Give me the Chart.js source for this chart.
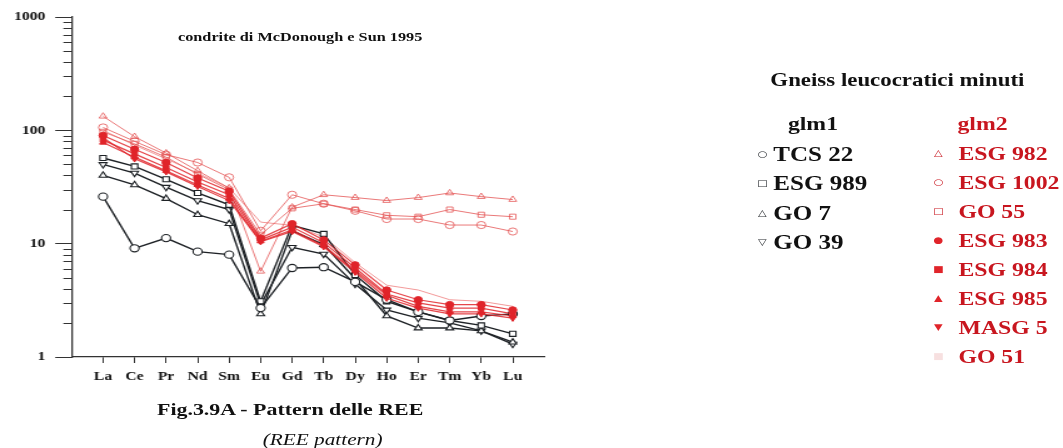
<!DOCTYPE html>
<html><head><meta charset="utf-8">
<script src="https://cdn.jsdelivr.net/npm/chart.js@4/dist/chart.umd.min.js"></script>
<style>
html,body{margin:0;padding:0;background:#fff;overflow:hidden}
#stage{position:relative;width:850px;height:448px;transform:scaleX(1.2506);transform-origin:0 0;font-family:"Liberation Serif","Times New Roman",serif;font-weight:bold;color:#111}
#stage canvas{position:absolute;left:0;top:0}
.t{position:absolute;white-space:nowrap;line-height:1}
.c{transform:translate(-50%,-50%)}
.l{transform:translateY(-50%)}
.mk{position:absolute;font-family:"DejaVu Sans",sans-serif;font-weight:normal;line-height:1;transform:translate(-50%,-50%)}
</style></head>
<body>
<div id="stage">
<canvas id="c" width="850" height="448"></canvas>
</div>
<script>
// ---- data ----
const categories = ['La','Ce','Pr','Nd','Sm','Eu','Gd','Tb','Dy','Ho','Er','Tm','Yb','Lu'];
const yTickValues = [1, 10, 100, 1000];

// glm1
const tcs22  = [26, 9.1, 11.2, 8.5, 8.0, 2.7, 6.1, 6.2, 4.6, 3.2, 2.5, 2.1, 2.3, 2.4];
const esg989 = [57, 48, 37, 28, 22, 3.1, 14.5, 12.2, 5.3, 3.1, 2.5, 2.1, 1.9, 1.6];
const go7    = [40, 33, 25, 18, 15, 2.4, 13, 9.8, 4.9, 2.3, 1.8, 1.8, 1.7, 1.35];
const go39   = [50, 42, 31.5, 24, 20, 2.9, 9.3, 8.1, 4.4, 2.6, 2.2, 2.0, 1.7, 1.3];

// glm2
const esg982  = [133, 88, 63, 44, 31, 5.7, 21, 27, 25.5, 24, 25.5, 28, 26, 24.5];
const esg1002 = [106, 80, 61, 52, 38.5, 13, 27, 22.5, 19.5, 16.5, 16.5, 14.6, 14.6, 12.8];
const go55    = [97, 76, 58, 41, 30, 12, 20.5, 22.5, 20, 17.8, 17.3, 20, 18, 17.3];
const esg983  = [90, 68, 52, 38, 29, 11.2, 15, 10.8, 6.5, 3.9, 3.2, 2.9, 2.9, 2.6];
const esg984  = [82, 62, 47, 35, 27, 10.8, 14, 10.2, 6.1, 3.6, 3.0, 2.7, 2.7, 2.4];
const esg985  = [78, 58, 44, 33, 25, 10.5, 13.2, 9.6, 5.8, 3.5, 2.8, 2.5, 2.5, 2.3];
const masg5   = [86, 56, 43, 32, 24, 10.4, 12.8, 9.4, 5.6, 3.3, 2.7, 2.4, 2.4, 2.2];
const go51    = [100, 74, 56, 42, 31, 15.5, 14.5, 11.5, 6.8, 4.3, 3.9, 3.2, 3.1, 2.8];

const glm1Names = ['TCS 22', 'ESG 989', 'GO 7', 'GO 39'];
const glm2Names = ['ESG 982', 'ESG 1002', 'GO 55', 'ESG 983', 'ESG 984', 'ESG 985', 'MASG 5', 'GO 51'];

// ---- styles ----
const BLACK = '#1e2226';
const RED = '#e0242a';
const REDLINE = 'rgba(224,36,42,0.85)';
const LIGHT = 'rgba(228,82,82,0.78)';
const TEXTRED = '#c8161f';

const pts = arr => arr.map((v, i) => ({x: i, y: v}));

function blackSet(label, arr, style, rot) {
  return {label, data: pts(arr), borderColor: BLACK, borderWidth: 1.4,
    pointStyle: style, pointRotation: rot || 0, pointRadius: 3.6, pointBorderWidth: 1.1,
    pointBorderColor: BLACK, pointBackgroundColor: '#fff', order: 1};
}
function lightSet(label, arr, style) {
  return {label, data: pts(arr), borderColor: LIGHT, borderWidth: 1,
    pointStyle: style, pointRadius: 3.6, pointBorderWidth: 1,
    pointBorderColor: LIGHT, pointBackgroundColor: 'rgba(255,255,255,0)', order: 2};
}
function fillSet(label, arr, style, rot) {
  return {label, data: pts(arr), borderColor: REDLINE, borderWidth: 1.2,
    pointStyle: style, pointRotation: rot || 0, pointRadius: 3.2, pointBorderWidth: 1,
    pointBorderColor: RED, pointBackgroundColor: RED, order: 0};
}

const datasets = [
  blackSet('TCS 22', tcs22, 'circle'),
  blackSet('ESG 989', esg989, 'rect'),
  blackSet('GO 7', go7, 'triangle'),
  blackSet('GO 39', go39, 'triangle', 180),
  lightSet('ESG 982', esg982, 'triangle'),
  lightSet('ESG 1002', esg1002, 'circle'),
  lightSet('GO 55', go55, 'rect'),
  fillSet('ESG 983', esg983, 'circle'),
  fillSet('ESG 984', esg984, 'rect'),
  fillSet('ESG 985', esg985, 'triangle'),
  fillSet('MASG 5', masg5, 'triangle', 180),
  {label: 'GO 51', data: pts(go51), borderColor: 'rgba(236,110,110,0.7)', borderWidth: 1, pointRadius: 0, order: 2}
];

const isMajor = v => yTickValues.includes(v);

const minorTicks = {
  id: 'minorTicks',
  afterDraw(chart) {
    const y = chart.scales.y, ctx = chart.ctx;
    ctx.save();
    ctx.strokeStyle = '#333';
    ctx.lineWidth = 1;
    y.ticks.forEach(t => {
      if (!isMajor(t.value)) {
        const py = Math.round(y.getPixelForValue(t.value)) + 0.5;
        ctx.beginPath();
        ctx.moveTo(y.right - 6.5, py);
        ctx.lineTo(y.right, py);
        ctx.stroke();
      }
    });
    ctx.restore();
  }
};

const tickFont = {family: '"Liberation Serif", "Times New Roman", serif', weight: 'bold', size: 12.5};

new Chart(document.getElementById('c'), {
  type: 'line',
  data: {datasets},
  options: {
    responsive: false,
    devicePixelRatio: 1,
    animation: false,
    events: [],
    layout: {padding: {top: 17, right: 414.8, bottom: 0, left: 0}},
    plugins: {legend: {display: false}, tooltip: {enabled: false}, title: {display: false}},
    elements: {line: {tension: 0}},
    scales: {
      x: {
        type: 'linear', min: -1, max: 14,
        afterBuildTicks: s => { s.ticks = categories.map((c, i) => ({value: i})); },
        afterFit: s => { s.height = 91; },
        ticks: {autoSkip: false, maxRotation: 0, minRotation: 0, padding: 6, color: '#111', font: tickFont,
          callback: v => categories[v] !== undefined ? categories[v] : ''},
        grid: {drawOnChartArea: false, drawTicks: true, tickLength: 6, color: '#333', lineWidth: 1},
        border: {display: true, color: '#333', width: 1.3}
      },
      y: {
        type: 'logarithmic', min: 1, max: 1000,
        afterBuildTicks: s => {
          const t = [];
          for (let e = 0; e < 3; e++) for (let m = 1; m < 10; m++) t.push({value: m * Math.pow(10, e)});
          t.push({value: 1000});
          s.ticks = t;
        },
        afterFit: s => { s.width = 57.2; },
        ticks: {autoSkip: false, padding: 8, color: '#111', font: tickFont,
          callback: v => isMajor(v) ? String(v) : ''},
        grid: {drawOnChartArea: false, drawTicks: true, tickLength: 13,
          color: ctx => (ctx.tick && isMajor(ctx.tick.value)) ? '#333' : 'rgba(0,0,0,0)'},
        border: {display: true, color: '#333', width: 1.3}
      }
    }
  },
  plugins: [minorTicks]
});

// ---- text & legend ----
const stage = document.getElementById('stage');
function addText(txt, x, y, cls, style) {
  const d = document.createElement('div');
  d.className = 't ' + cls;
  d.textContent = txt;
  d.style.left = x + 'px';
  d.style.top = y + 'px';
  Object.assign(d.style, style || {});
  stage.appendChild(d);
  return d;
}
function addMarker(ch, x, y, color, size) {
  const d = document.createElement('div');
  d.className = 'mk';
  d.textContent = ch;
  d.style.left = x + 'px';
  d.style.top = y + 'px';
  d.style.color = color;
  d.style.fontSize = size + 'px';
  stage.appendChild(d);
}

addText('condrite di McDonough e Sun 1995', 240, 36, 'c', {fontSize: '13px'});
addText('Fig.3.9A - Pattern delle REE', 232, 410, 'c', {fontSize: '17.5px'});
addText('(REE pattern)', 258, 439, 'c', {fontSize: '17px', fontStyle: 'italic', fontWeight: 'normal'});

addText('Gneiss leucocratici minuti', 616, 80, 'l', {fontSize: '18.3px'});
addText('glm1', 630, 123, 'l', {fontSize: '19px'});
addText('glm2', 765.6, 123, 'l', {fontSize: '19px', color: TEXTRED});

const glm1Marks = ['○', '□', '△', '▽'];
glm1Names.forEach((n, i) => {
  const y = 154 + i * 29.3;
  addMarker(glm1Marks[i], 609.6, y, BLACK, 9);
  addText(n, 618.4, y, 'l', {fontSize: '20px'});
});
const glm2Marks = ['△', '○', '□', '●', '■', '▲', '▼', '■'];
const glm2MarkColors = [TEXTRED, TEXTRED, TEXTRED, RED, RED, RED, RED, '#f7e0e0'];
glm2Names.forEach((n, i) => {
  const y = 153 + i * 29;
  addMarker(glm2Marks[i], 750.4, y, glm2MarkColors[i], 9);
  addText(n, 766.4, y, 'l', {fontSize: '19px', color: TEXTRED});
});
</script>
</body></html>
